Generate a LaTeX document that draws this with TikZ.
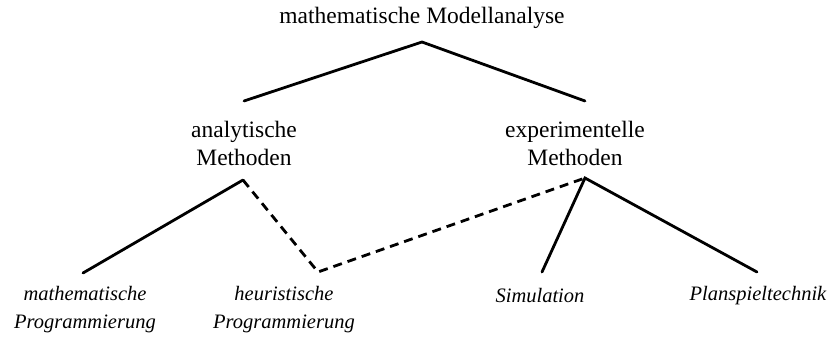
\documentclass[tikz,border=0pt]{standalone}
\usepackage{fontspec}
\setmainfont{Liberation Serif}
\begin{document}
\begin{tikzpicture}[x=1pt,y=-1pt,
  lbl/.style={inner sep=0pt,align=center,font=\fontsize{23.5}{28}\selectfont},
  ilbl/.style={inner sep=0pt,align=center,font=\fontsize{20.5}{28}\selectfont\itshape},
  conn/.style={line width=2.8pt,line cap=round},
  dconn/.style={line width=2.8pt,dash pattern=on 9pt off 6pt}]
\useasboundingbox (0,0) rectangle (836,341);
\node[lbl] (top) at (422,18) {mathematische Modellanalyse};
\node[lbl] (ana) at (244,143) {analytische\\Methoden};
\node[lbl] (exp) at (575,143) {experimentelle\\Methoden};
\node[ilbl] (mp) at (85,310) {mathematische\\Programmierung};
\node[ilbl] (hp) at (284,310) {heuristische\\Programmierung};
\node[ilbl] (sim) at (540,296) {Simulation};
\node[ilbl] (pst) at (758,296) {Planspieltechnik};
\coordinate (t0) at (422,42);
\coordinate (t1) at (244,101);
\coordinate (t2) at (585,101);
\coordinate (a0) at (243,180);
\coordinate (e0) at (585,178);
\coordinate (m1) at (83,273);
\coordinate (h1) at (318,272);
\coordinate (s1) at (542,272);
\coordinate (p1) at (757,272);
\draw[conn] (t1) -- (t0) -- (t2);
\draw[conn] (m1) -- (a0);
\draw[dconn] (a0) -- (h1) -- (e0);
\draw[conn] (s1) -- (e0) -- (p1);
\end{tikzpicture}
\end{document}
